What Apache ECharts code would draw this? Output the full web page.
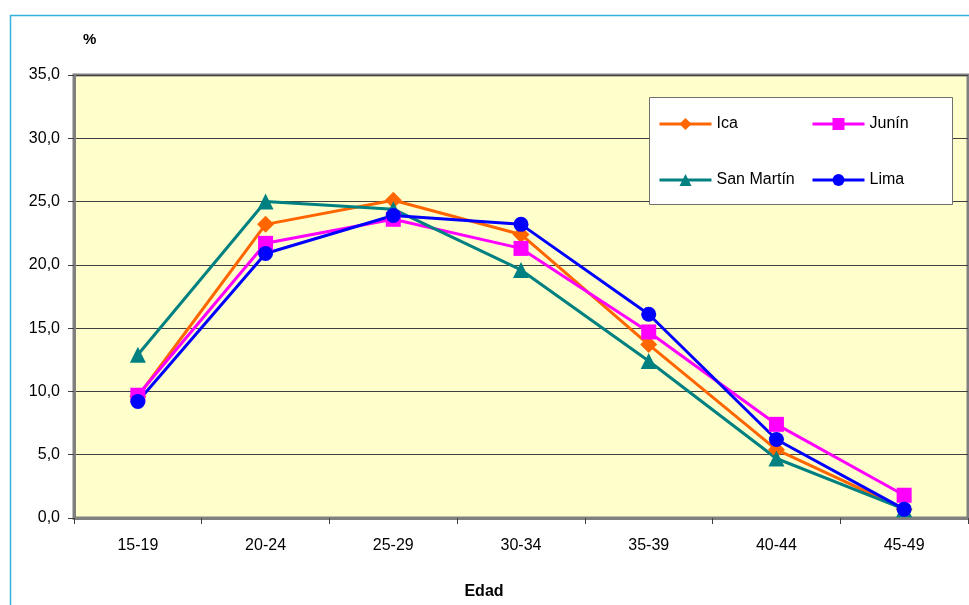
<!DOCTYPE html>
<html><head><meta charset="utf-8">
<script src="https://cdn.jsdelivr.net/npm/echarts@6/dist/echarts.min.js"></script>
<style>html,body{margin:0;padding:0;background:#fff}#c{width:969px;height:605px}</style>
</head><body><div id="c"></div>
<script>
const categories = ['15-19','20-24','25-29','30-34','35-39','40-44','45-49'];
const ica       = [9.6, 23.2, 25.1, 22.4, 13.7, 5.4, 0.7];
const junin     = [9.7, 21.7, 23.6, 21.3, 14.7, 7.4, 1.8];
const sanMartin = [12.9, 25.0, 24.4, 19.6, 12.4, 4.7, 0.7];
const lima      = [9.2, 20.9, 23.9, 23.2, 16.1, 6.2, 0.7];
const yTicks = [0,5,10,15,20,25,30,35];

const font = 'Liberation Sans, Arial, sans-serif';
const chart = echarts.init(document.getElementById('c'));
function s(name, data, color, symbol, size){
  return {name, type:'line', data, color, symbol, symbolSize:size,
    lineStyle:{width:3,color}, itemStyle:{color}, z:3};
}
const legendCommon = {orient:'vertical', top:116, padding:0, itemWidth:52, itemHeight:15, itemGap:40, z:10,
  lineStyle:{width:3}, textStyle:{fontFamily:font, fontSize:16, color:'#000'}};
chart.setOption({
  animation:false,
  graphic:[
    {type:'rect', shape:{x:10.5,y:15.5,width:1000,height:700}, style:{fill:'none',stroke:'#33b3dc',lineWidth:1.5}, z:0},
    {type:'rect', shape:{x:649.5,y:97.5,width:303,height:107}, style:{fill:'#fff',stroke:'#707070',lineWidth:1}, z:5},
    {type:'text', x:83, y:32, style:{text:'%', font:'bold 15px '+font, fill:'#000'}, z:5},
    {type:'text', x:484, y:584, style:{text:'Edad', font:'bold 16px '+font, fill:'#000', textAlign:'center'}, z:5}
  ],
  grid:{left:74, top:75, width:894, height:443, show:true, backgroundColor:'#FFFFCC', borderColor:'#808080', borderWidth:3},
  legend:[
    Object.assign({data:['Ica','San Martín'], left:658}, legendCommon),
    Object.assign({data:['Junín','Lima'], left:811}, legendCommon)
  ],
  xAxis:{type:'category', data:categories, boundaryGap:true,
    axisLine:{show:true, lineStyle:{color:'#808080', width:3}},
    axisTick:{show:true, alignWithLabel:false, length:6, lineStyle:{color:'#404040'}},
    axisLabel:{color:'#000', fontFamily:font, fontSize:16, margin:20},
    splitLine:{show:false}},
  yAxis:{type:'value', min:0, max:35, interval:5,
    axisLine:{show:true, lineStyle:{color:'#808080', width:3}},
    axisTick:{show:true, length:6, lineStyle:{color:'#404040'}},
    axisLabel:{color:'#000', fontFamily:font, fontSize:16, margin:14,
      formatter:v=>yTicks.includes(v)?v.toFixed(1).replace('.',','):''},
    splitLine:{show:true, lineStyle:{color:'#404040', width:1}}},
  series:[
    s('Ica', ica, '#FF6600', 'diamond', 17),
    s('Junín', junin, '#FF00FF', 'rect', 15),
    s('San Martín', sanMartin, '#008080', 'triangle', 16),
    s('Lima', lima, '#0000FF', 'circle', 15)
  ]
});
</script></body></html>
